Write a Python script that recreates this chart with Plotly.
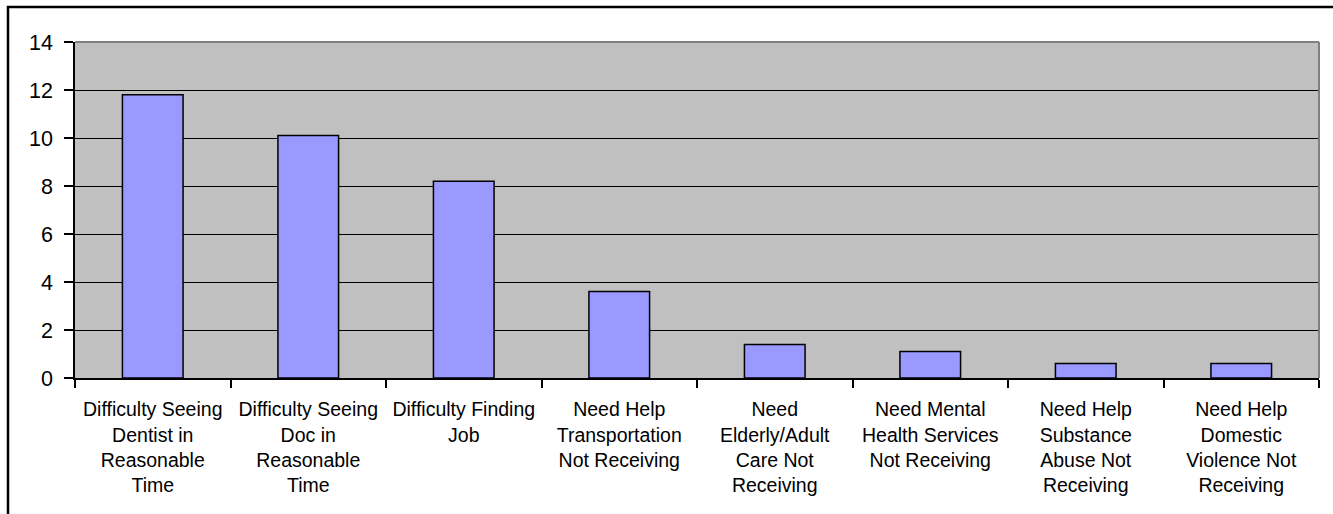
import plotly.graph_objects as go

categories = [
    "Difficulty Seeing<br>Dentist in<br>Reasonable<br>Time",
    "Difficulty Seeing<br>Doc in<br>Reasonable<br>Time",
    "Difficulty Finding<br>Job",
    "Need Help<br>Transportation<br>Not Receiving",
    "Need<br>Elderly/Adult<br>Care Not<br>Receiving",
    "Need Mental<br>Health Services<br>Not Receiving",
    "Need Help<br>Substance<br>Abuse Not<br>Receiving",
    "Need Help<br>Domestic<br>Violence Not<br>Receiving",
]
values = [11.8, 10.1, 8.2, 3.6, 1.4, 1.1, 0.6, 0.6]
y_ticks = [0, 2, 4, 6, 8, 10, 12, 14]

W, H = 1333, 514
L, R, T, B = 75, 14, 42, 136
pw, ph = W - L - R, H - T - B


def px_x(px):
    return (px - L) / pw


def px_y(py):
    return (H - B - py) / ph


fig = go.Figure(
    go.Bar(
        x=categories,
        y=values,
        marker=dict(color="#9999FF", line=dict(color="black", width=1.5)),
        hoverinfo="x+y",
    )
)

fig.update_layout(
    width=W,
    height=H,
    margin=dict(l=L, r=R, t=T, b=B, pad=0),
    paper_bgcolor="white",
    plot_bgcolor="#C0C0C0",
    bargap=0.61,
    showlegend=False,
    font=dict(family="Liberation Sans, Arial, sans-serif", size=19, color="black"),
    shapes=[
        # plot area frame (top and right edges)
        dict(type="line", xref="paper", yref="paper", x0=0, x1=1, y0=1, y1=1,
             line=dict(color="#808080", width=2), layer="above"),
        dict(type="line", xref="paper", yref="paper", x0=1, x1=1, y0=0, y1=1,
             line=dict(color="#808080", width=2), layer="above"),
        # outer chart frame
        dict(type="rect", xref="paper", yref="paper",
             x0=px_x(8), x1=px_x(W + 20), y0=px_y(H + 20), y1=px_y(7),
             line=dict(color="black", width=2.5), fillcolor="rgba(0,0,0,0)",
             layer="above"),
    ],
)

fig.update_xaxes(
    type="category",
    showline=True, linecolor="black", linewidth=1.5,
    ticks="outside", tickson="boundaries", ticklen=8, tickcolor="black", tickwidth=1.5,
    showgrid=False,
    tickfont=dict(size=19.5),
    tickangle=0,
    ticklabelstandoff=13,
)

fig.update_yaxes(
    range=[0, 14],
    tickvals=y_ticks,
    showline=True, linecolor="black", linewidth=1.5,
    ticks="outside", ticklen=9, tickcolor="black", tickwidth=1.5,
    showgrid=True, gridcolor="black", gridwidth=1,
    zeroline=False,
    tickfont=dict(size=21.5),
    ticklabelstandoff=7,
)

fig.write_html("out.html")
